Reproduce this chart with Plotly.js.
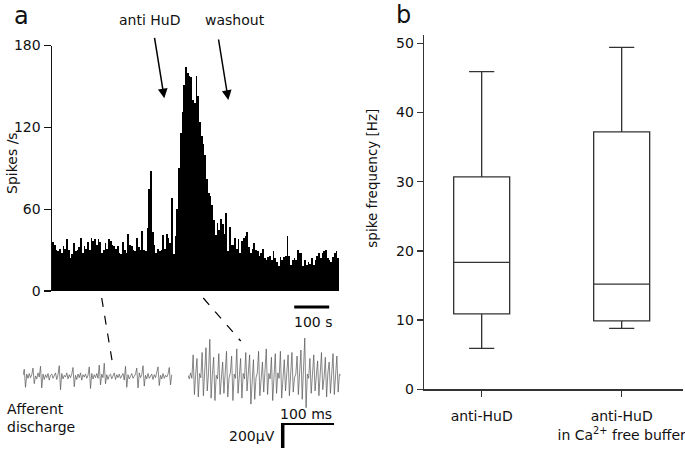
<!DOCTYPE html>
<html>
<head>
<meta charset="utf-8">
<script src="https://cdn.plot.ly/plotly-3.0.1.min.js"></script>
<style>
  html, body { margin: 0; padding: 0; background: #fff; }
  #myPlot { width: 685px; height: 449px; }
</style>
</head>
<body>
<div id="myPlot"></div>
<script>
const myPlot = document.getElementById('myPlot');

/**
 * Data
 */
// panel a: spike rate histogram, 5 s bins
const binWidth = 5;
const spikeRate = [
  36, 34, 30, 29, 31, 28, 33, 31, 38, 30, 24, 27, 35, 29, 30, 32, 39, 28, 33, 31,
  36, 30, 39, 37, 38, 34, 38, 36, 28, 30, 35, 31, 38, 37,
  34, 33, 31, 33, 28, 27, 36, 30, 28, 42, 34, 33, 30, 29, 39, 32,
  30, 44, 30, 29, 46, 75, 88, 43, 34, 28, 31, 29, 30, 41, 31, 42,
  39, 35, 68, 27, 40,
  60, 90, 116, 131, 151, 164, 160, 158, 157, 140, 138, 158, 143, 124, 114, 108,
  100, 82, 72, 70, 63, 52, 41, 50, 45, 53,
  49, 42, 57, 29, 47, 34, 34, 39, 31, 38, 28, 37, 39, 40, 43, 32, 28, 31, 35, 30,
  29, 26, 28, 31, 24, 23, 25, 26, 23, 29, 24, 21, 18, 25, 23, 25,
  26, 40, 26, 19, 23, 24, 23, 30, 28, 28, 18, 23, 19, 21, 20, 24, 19, 23, 26, 28,
  24, 28, 29, 30, 24, 23, 21, 25, 28, 29, 24
];

// afferent discharge traces, 2.5 ms per sample, in microvolts
const sampleStep = 2.5;
const traceBefore = [
  10, 60, -90, 20, -15, 25, -10, 15, 70, -60,
  5, -20, 30, -5, 85, -95, 20, -25, 15, -10,
  25, -30, 10, 20, -15, 5, 30, -25, 15, 90,
  -110, 25, -20, 10, -5, 30, -20, 15, -10, 20,
  75, -85, 10, -25, 20, -10, 30, -30, 15, -5,
  20, -15, 10, 80, -100, 25, -20, 15, -10, 25,
  -15, 95, -70, 20, -10, 110, -60, 15, -25, 10,
  20, -20, 5, 30, -25, 15, -10, 20, -15, 10,
  25, -30, 85, -90, 15, -20, 10, 25, -15, 5,
  20, 70, -95, 30, -10, 15, 90, -80, 10, -20,
  25, -15, 5, 20, -25, 15, -10, 30, 80, -75,
  10, -20, 25, -15, 10, -5, 20, 75, -70, 15
];
const traceAntiHuD = [
  10, -20, 30, -15, 180, -150, 20, 150, -170, 25,
  -10, 200, -160, 15, 240, -120, 30, 310, -180, 20,
  160, -200, 10, -20, 190, -150, 25, 120, -140, 15,
  210, -170, -10, 30, 170, -200, 20, -15, 230, -140,
  10, 150, -180, 25, -20, 200, -120, 15, 180, -230,
  20, 140, -190, -10, 30, 210, -160, 20, 120, -130,
  10, 230, -150, 25, -20, 160, -200, 15, 190, -140,
  30, -15, 210, -180, 20, 140, -120, 10, 180, -160,
  25, 200, -130, -10, 20, 170, -150, 15, 220, -190,
  30, 320, -260, 20, -15, 150, -140, 10, 180, -120,
  25, 130, -160, 20, 200, -110, -15, 160, -170, 30,
  120, -140, 10, 190, -150, 25, 170, -130, 20, 10
];

// panel b: box plot summary
const groups = ['anti-HuD', 'anti-HuD<br>in Ca<sup>2+</sup> free buffer'];
const q1 = [10.9, 9.9];
const median = [18.35, 15.2];
const q3 = [30.7, 37.2];
const lowerFence = [5.9, 8.8];
const upperFence = [45.9, 49.4];

/**
 * Helpers: pixel -> paper (margins are 0, so paper == figure)
 */
const W = 685, H = 449;
const px = (x) => x / W;
const py = (y) => 1 - y / H;

const FONT = 'DejaVu Sans, Arial, sans-serif';

/**
 * Traces
 */
const histogram = {
  type: 'bar',
  x0: binWidth / 2,
  dx: binWidth,
  y: spikeRate,
  marker: { color: '#000', line: { width: 0 } },
  xaxis: 'x', yaxis: 'y',
  hoverinfo: 'skip'
};

const before = {
  type: 'scatter', mode: 'lines',
  x0: 0, dx: sampleStep,
  y: traceBefore,
  line: { color: '#555', width: 0.7 },
  xaxis: 'x3', yaxis: 'y3'
};

const during = {
  type: 'scatter', mode: 'lines',
  x0: 0, dx: sampleStep,
  y: traceAntiHuD,
  line: { color: '#555', width: 0.7 },
  xaxis: 'x4', yaxis: 'y4'
};

const boxes = {
  type: 'box',
  x: groups,
  q1: q1,
  median: median,
  q3: q3,
  lowerfence: lowerFence,
  upperfence: upperFence,
  width: 0.4,
  whiskerwidth: 0.45,
  fillcolor: '#fff',
  line: { color: '#333', width: 1.3 },
  xaxis: 'x2', yaxis: 'y2',
  hoverinfo: 'skip'
};

const data = [histogram, before, during, boxes];

/**
 * Layout
 */
const hidden = { visible: false, fixedrange: true };

const layout = {
  width: W,
  height: H,
  margin: { l: 0, r: 0, t: 0, b: 0 },
  paper_bgcolor: '#fff',
  plot_bgcolor: 'rgba(0,0,0,0)',
  showlegend: false,
  bargap: 0,
  font: { family: FONT, size: 14, color: '#111' },

  // panel a
  xaxis: Object.assign({}, hidden, { domain: [px(52), px(339)], range: [0, 820] }),
  yaxis: {
    domain: [py(291), py(45.5)],
    range: [0, 180],
    tickvals: [0, 60, 120, 180],
    ticks: 'outside', ticklen: 7, tickwidth: 1.3, tickcolor: '#111',
    showline: true, linecolor: '#111', linewidth: 1.5,
    showgrid: false, zeroline: false,
    tickfont: { size: 14 }
  },

  // panel b
  xaxis2: {
    domain: [px(424), px(683)],
    range: [-0.412, 1.438],
    anchor: 'y2',
    ticks: 'outside', ticklen: 6, tickwidth: 1.3, tickcolor: '#333',
    showline: true, linecolor: '#333', linewidth: 1.3,
    showgrid: false, zeroline: false,
    ticklabelstandoff: 8,
    tickfont: { size: 14 }
  },
  yaxis2: {
    domain: [py(389.3), py(35)],
    range: [0, 51.2],
    anchor: 'x2',
    tickvals: [0, 10, 20, 30, 40, 50],
    ticks: 'outside', ticklen: 6, tickwidth: 1.3, tickcolor: '#333',
    showline: true, linecolor: '#333', linewidth: 1.3,
    showgrid: false, zeroline: false,
    tickfont: { size: 14 }
  },

  // raw traces
  xaxis3: Object.assign({}, hidden, { domain: [px(23), px(173)], range: [0, 300], anchor: 'y3' }),
  yaxis3: Object.assign({}, hidden, { domain: [py(420), py(333)], range: [-362, 362], anchor: 'x3' }),
  xaxis4: Object.assign({}, hidden, { domain: [px(188), px(342)], range: [0, 300], anchor: 'y4' }),
  yaxis4: Object.assign({}, hidden, { domain: [py(420), py(333)], range: [-362, 362], anchor: 'x4' }),

  shapes: [
    // 100 s scale bar
    { type: 'line', xref: 'x', yref: 'paper', x0: 692, x1: 792, y0: py(307), y1: py(307),
      line: { color: '#000', width: 3 } },
    // dashed connectors
    { type: 'line', xref: 'paper', yref: 'paper', x0: px(101.7), y0: py(298), x1: px(112.3), y1: py(362),
      line: { color: '#000', width: 1.2, dash: 'dash' } },
    { type: 'line', xref: 'paper', yref: 'paper', x0: px(203.3), y0: py(298), x1: px(240.7), y1: py(341),
      line: { color: '#000', width: 1.2, dash: 'dash' } },
    // 100 ms / 200 uV scale bar
    { type: 'line', xref: 'x4', yref: 'paper', x0: 184.5, x1: 284.5, y0: py(424), y1: py(424),
      line: { color: '#000', width: 2 } },
    { type: 'line', xref: 'x4', yref: 'paper', x0: 184.5, x1: 184.5, y0: py(423), y1: py(448),
      line: { color: '#000', width: 3.5 } }
  ],

  annotations: [
    { text: 'a', xref: 'paper', yref: 'paper', x: px(21), y: py(16), showarrow: false,
      font: { size: 24 }, xanchor: 'center', yanchor: 'middle' },
    { text: 'b', xref: 'paper', yref: 'paper', x: px(403), y: py(15), showarrow: false,
      font: { size: 24 }, xanchor: 'center', yanchor: 'middle' },
    { text: 'anti HuD', xref: 'paper', yref: 'paper', x: px(149), y: py(20), showarrow: false,
      xanchor: 'center', yanchor: 'middle' },
    { text: 'washout', xref: 'paper', yref: 'paper', x: px(235), y: py(20), showarrow: false,
      xanchor: 'center', yanchor: 'middle' },
    // arrows
    { text: '', xref: 'paper', yref: 'paper', x: px(164.3), y: py(98.3), ax: -10, ay: -62,
      showarrow: true, arrowhead: 2, arrowsize: 1.3, arrowwidth: 1.5, arrowcolor: '#000', standoff: 0 },
    { text: '', xref: 'paper', yref: 'paper', x: px(228.3), y: py(100), ax: -10, ay: -62,
      showarrow: true, arrowhead: 2, arrowsize: 1.3, arrowwidth: 1.5, arrowcolor: '#000', standoff: 0 },
    // axis titles
    { text: 'Spikes /s', xref: 'paper', yref: 'paper', x: px(12), y: py(163), textangle: -90,
      showarrow: false, xanchor: 'center', yanchor: 'middle' },
    { text: 'spike frequency [Hz]', xref: 'paper', yref: 'paper', x: px(371.7), y: py(178), textangle: -90,
      showarrow: false, xanchor: 'center', yanchor: 'middle', font: { size: 13.5 } },
    // scale bar labels
    { text: '100 s', xref: 'paper', yref: 'paper', x: px(313), y: py(322), showarrow: false,
      xanchor: 'center', yanchor: 'middle' },
    { text: '100 ms', xref: 'paper', yref: 'paper', x: px(306), y: py(414), showarrow: false,
      xanchor: 'center', yanchor: 'middle' },
    { text: '200µV', xref: 'paper', yref: 'paper', x: px(277), y: py(436), showarrow: false,
      xanchor: 'right', yanchor: 'middle' },
    { text: 'Afferent<br>discharge', xref: 'paper', yref: 'paper', x: px(5), y: py(418), showarrow: false,
      xanchor: 'left', yanchor: 'middle', align: 'left' }
  ]
};

Plotly.newPlot(myPlot, data, layout, { displayModeBar: false, staticPlot: true });
</script>
</body>
</html>
